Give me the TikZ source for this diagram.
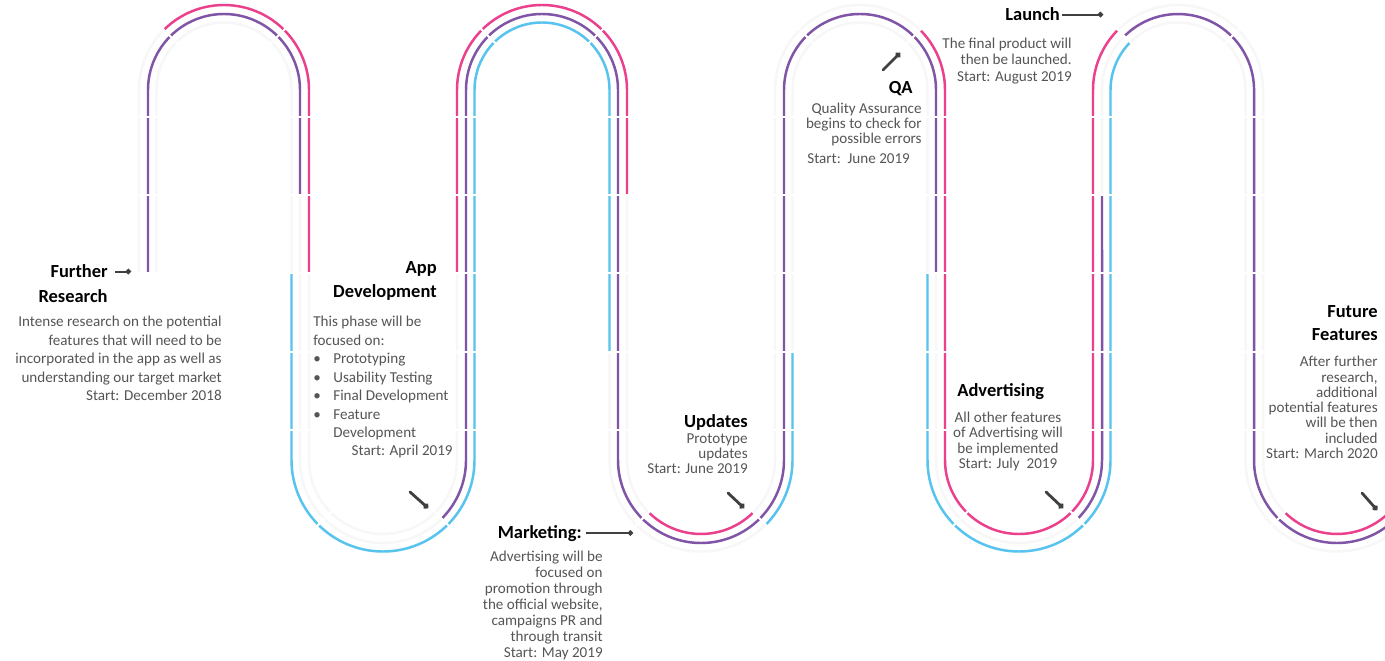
\documentclass[tikz,border=0pt]{standalone}
\usepackage{fontspec}
\setmainfont{Carlito}
\usetikzlibrary{arrows.meta}
\definecolor{roadpink}{RGB}{236,64,140}
\definecolor{roadpurple}{RGB}{128,84,166}
\definecolor{roadblue}{RGB}{86,196,238}
\definecolor{roadtext}{RGB}{85,85,85}
\newcommand{\roaditem}{\makebox[0.4cm][l]{\textbullet}}
\begin{document}
\begin{tikzpicture}[x=0.02cm, y=0.02cm,
    lane/.style={line width=1.4pt},
    pinklane/.style={lane, draw=roadpink},
    purplelane/.style={lane, draw=roadpurple},
    bluelane/.style={lane, draw=roadblue},
    faintlane/.style={lane, draw=black!3},
    gap/.style={draw=white, line width=1.2pt},
    head/.style={font=\fontsize{10.5}{13.6}\selectfont\bfseries, inner sep=0pt},
    body/.style={font=\fontsize{8.6}{10.5}\selectfont, text=roadtext, inner sep=0pt},
    pin/.style={draw=black!75, line width=1.1pt, -{Circle[length=3pt]}},
    tick/.style={draw=black!75, line width=1.6pt, line cap=round, -{Circle[length=3.2pt]}},
  ]
  \useasboundingbox[fill=white] (0,0) rectangle (1385,660);
  \begin{scope}
    \clip (0,0) rectangle (1385,660);
    % faint track
    \foreach \rt/\rb in {85/74, 76/83, 67.5/91.5} {
      \draw[faintlane] (224-\rt,387) -- (224-\rt,570) arc[start angle=180, end angle=0, radius=\rt]
        -- (224+\rt,200) arc[start angle=180, end angle=360, radius=\rb];
      \foreach \t in {542,860,1178}
        \draw[faintlane] (\t-\rt,200) -- (\t-\rt,570) arc[start angle=180, end angle=0, radius=\rt]
          -- (\t+\rt,200) arc[start angle=180, end angle=360, radius=\rb];
    }
    % purple lane
    \draw[purplelane] (148,387) -- (148,570) arc[start angle=180, end angle=0, radius=76] -- (300,465);
    \draw[purplelane] (441.7,141.3) arc[start angle=-45, end angle=0, radius=83]
      -- (466,570) arc[start angle=180, end angle=0, radius=76]
      -- (618,200) arc[start angle=180, end angle=360, radius=83]
      -- (784,570) arc[start angle=180, end angle=0, radius=76] -- (936,387);
    \draw[purplelane] (1077.7,141.3) arc[start angle=-45, end angle=0, radius=83] -- (1102,465);
    \draw[purplelane] (1124.3,623.7) arc[start angle=135, end angle=0, radius=76]
      -- (1254,200) arc[start angle=180, end angle=315, radius=83];
    % pink lane
    \draw[pinklane] (163.9,630.1) arc[start angle=135, end angle=0, radius=85] -- (309,387);
    \draw[pinklane] (457,387) -- (457,570) arc[start angle=180, end angle=0, radius=85] -- (627,465);
    \draw[pinklane] (648.7,147.7) arc[start angle=-135, end angle=-45, radius=74];
    \draw[pinklane] (920.1,630.1) arc[start angle=45, end angle=0, radius=85]
      -- (945,200) arc[start angle=180, end angle=360, radius=74]
      -- (1093,570) arc[start angle=180, end angle=135, radius=85];
    \draw[pinklane] (1284.7,147.7) arc[start angle=-135, end angle=-35, radius=74];
    % blue lane
    \draw[bluelane] (291.5,387) -- (291.5,200) arc[start angle=180, end angle=360, radius=91.5]
      -- (474.5,570) arc[start angle=180, end angle=0, radius=67.5] -- (609.5,308);
    \draw[bluelane] (765.7,135.3) arc[start angle=-45, end angle=0, radius=91.5] -- (792.5,308);
    \draw[bluelane] (927.5,387) -- (927.5,200) arc[start angle=180, end angle=360, radius=91.5]
      -- (1110.5,570) arc[start angle=180, end angle=135, radius=67.5];
    % breaks between the pieces
    \foreach \x in {148,300,466,618,784,936,1102,1254}
      \foreach \y in {543,465,387,308,230}
        \draw[gap] (\x-15,\y) -- (\x+15,\y);
    \foreach \t in {224,542,860,1178}
      \foreach \a in {45,135}
        \draw[gap] (\t,570) ++(\a:58) -- ++(\a:36);
    \foreach \b in {383,701,1019,1337}
      \foreach \a in {-45,-135}
        \draw[gap] (\b,200) ++(\a:64) -- ++(\a:38);
  \end{scope}

  % Further Research
  \node[head, anchor=base east] (further) at (108,382) {Further};
  \node[head, anchor=base east] (research) at (108,358) {Research};
  \node[body, anchor=base east, align=right] (furtherbody) at (222,259.5) {Intense research on the potential\\features that will need to be\\incorporated in the app as well as\\understanding our target market\\Start: December 2018};
  \coordinate (furtherpin) at (131,388);
  \draw[pin, shorten <=4pt] (further.east) -- (further.east -| furtherpin);

  % App Development
  \node[head, anchor=base east] (appa) at (437,387) {App};
  \node[head, anchor=base east] (appb) at (437,363) {Development};
  \node[body, anchor=base west, align=left] (appbody) at (313,222.5) {This phase will be\\focused on:\\\roaditem Prototyping\\\roaditem Usability Testing\\\roaditem Final Development\\\roaditem Feature\\\hspace*{0.4cm}Development};
  \node[body, anchor=base east] (appstart) at (453,204.5) {Start: April 2019};
  \coordinate (appticka) at (410,168);
  \coordinate (apptickb) at (428,152);
  \draw[tick] (appticka) -- (apptickb);

  % Marketing
  \node[head, anchor=base east] (marketing) at (582,122) {Marketing:};
  \node[body, font=\fontsize{8.6}{9.1}\selectfont, anchor=base east, align=right] (marketingbody) at (603,3) {Advertising will be\\focused on\\promotion through\\the official website,\\campaigns PR and\\through transit\\Start: May 2019};
  \coordinate (marketingpin) at (633,127);
  \draw[pin, shorten <=2pt] (marketing.east) -- (marketing.east -| marketingpin);

  % Updates
  \node[head, anchor=base east] (updates) at (748,233) {Updates};
  \node[body, font=\fontsize{8.6}{8.6}\selectfont, anchor=base east, align=right] (updatesbody) at (748,186.5) {Prototype\\updates\\Start: June 2019};
  \coordinate (updticka) at (728,167);
  \coordinate (updtickb) at (744,152);
  \draw[tick] (updticka) -- (updtickb);

  % QA
  \node[head, anchor=base east] (qa) at (913,566) {QA};
  \node[body, font=\fontsize{8.6}{8.6}\selectfont, anchor=base east, align=right] (qabody) at (922,516.5) {Quality Assurance\\begins to check for\\possible errors};
  \node[body, anchor=base west] (qastart) at (807,496.5) {Start:\ \ June 2019};
  \coordinate (qaticka) at (883,590);
  \coordinate (qatickb) at (900,607);
  \draw[tick] (qaticka) -- (qatickb);

  % Launch
  \node[head, anchor=base east] (launch) at (1060,639) {Launch};
  \node[body, font=\fontsize{8.6}{9.4}\selectfont, anchor=base east, align=right] (launchbody) at (1072,578.5) {The final product will\\then be launched.\\Start: August 2019};
  \coordinate (launchpin) at (1103,643);
  \draw[pin, shorten <=1pt] (launch.east) -- (launch.east -| launchpin);

  % Advertising
  \node[head, anchor=base west] (advertising) at (957,264) {Advertising};
  \node[body, font=\fontsize{8.6}{8.7}\selectfont, anchor=base, align=center] (advertisingbody) at (1008,191.5) {All other features\\of Advertising will\\be implemented\\Start: July\ \ 2019};
  \coordinate (advticka) at (1046,168);
  \coordinate (advtickb) at (1063,152);
  \draw[tick] (advticka) -- (advtickb);

  % Future Features
  \node[head, anchor=base east] (futurea) at (1378,343) {Future};
  \node[head, anchor=base east] (futureb) at (1378,320) {Features};
  \node[body, font=\fontsize{8.6}{8.7}\selectfont, anchor=base east, align=right] (futurebody) at (1378,201.5) {After further\\research,\\additional\\potential features\\will be then\\included\\Start: March 2020};
  \coordinate (futticka) at (1362,167);
  \coordinate (futtickb) at (1377,150);
  \draw[tick] (futticka) -- (futtickb);
\end{tikzpicture}
\end{document}
